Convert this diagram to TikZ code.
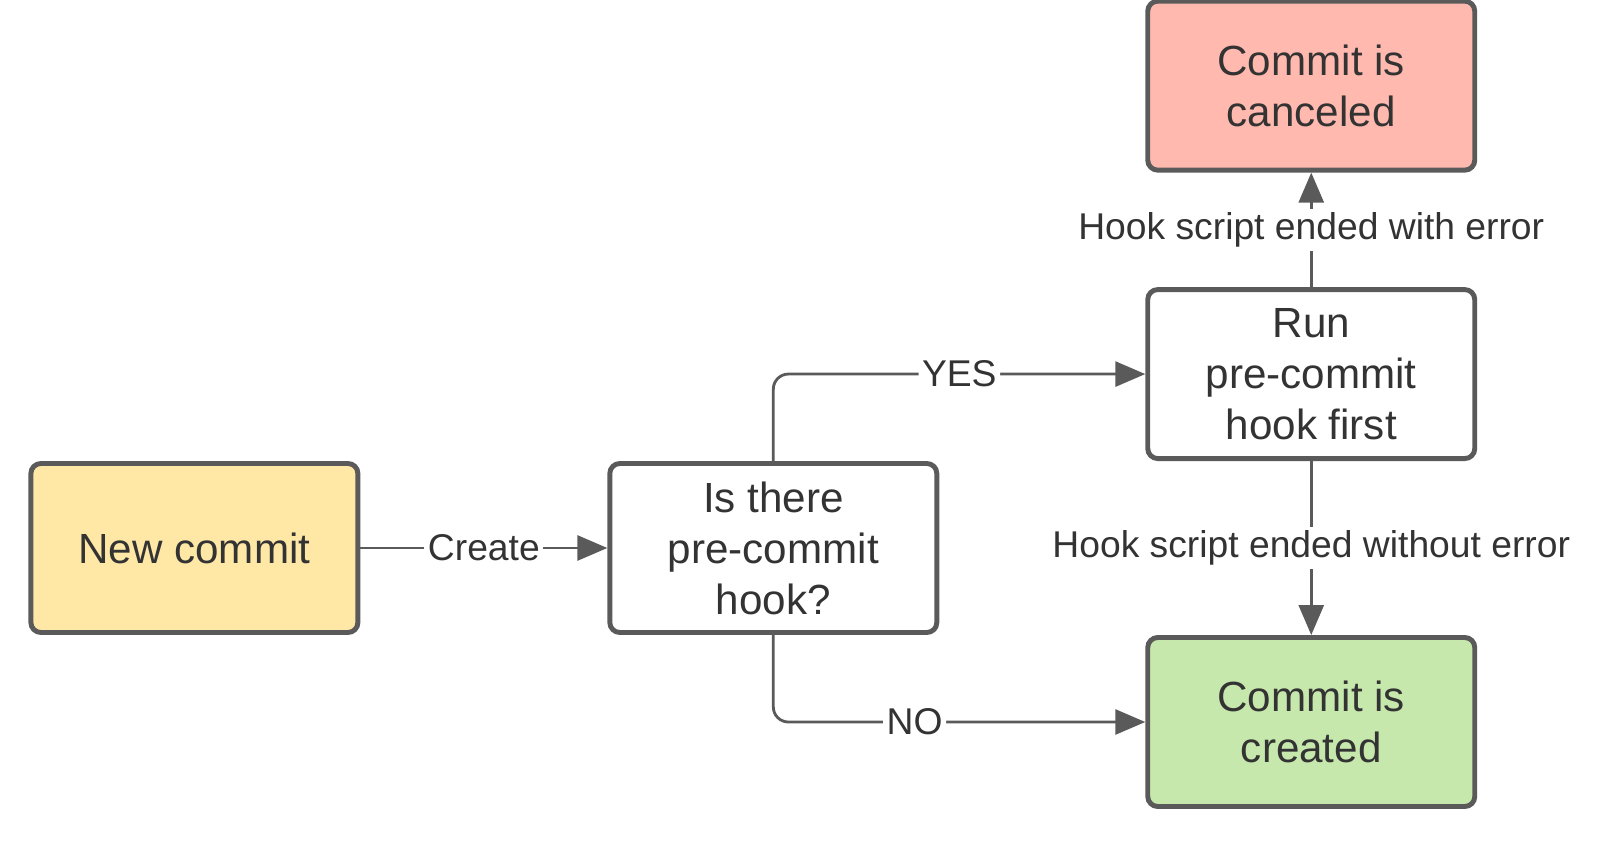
\documentclass[tikz,border=0pt]{standalone}
\usepackage{fontspec}
\setmainfont{Liberation Sans}
\usetikzlibrary{positioning}
\usetikzlibrary{arrows.meta}
\definecolor{boxline}{HTML}{5A5A5A}
\definecolor{textgray}{HTML}{333333}
\definecolor{newfill}{HTML}{FFE8A6}
\definecolor{cancelfill}{HTML}{FFB9AE}
\definecolor{donefill}{HTML}{C7E8AC}
\tikzset{
	block/.style={draw=boxline, rectangle, rounded corners=0.1cm, line width=1.4pt, fill=white, text=textgray, align=center, minimum width=3.27cm, minimum height=1.69cm, font=\fontsize{12}{14.5}\selectfont},
	% labels sitting on the connectors
	edgelabel/.style={fill=white, inner sep=1pt, text=textgray, font=\fontsize{10.6}{12}\selectfont},
}

\begin{document}
\begin{tikzpicture}
	\useasboundingbox (0,0) rectangle (16,8.4);
	\node (new) [block, fill=newfill] at (1.944,2.92) {New commit};
	\node (hook) [block, right=2.47cm of new] {Is there\\pre-commit\\hook?};
	\node (run) [block, above right=0cm and 2.06cm of hook] {Run\\pre-commit\\hook first};
	\node (cancel) [block, fill=cancelfill, above=1.145cm of run] {Commit is\\canceled};
	\node (created) [block, fill=donefill, below=1.74cm of run] {Commit is\\created};
	
	\begin{scope}[line width=0.8pt, boxline, -{Triangle[length=3mm, width=2.5mm]}]
		\draw (new) -- node[edgelabel] {Create} (hook);
		\draw[rounded corners=0.15cm] (hook.north) |- node[edgelabel, pos=0.75] {YES} (run.west);
		\draw[rounded corners=0.15cm] (hook.south) |- node[edgelabel, pos=0.69] {NO} (created.west);
		\draw (run) -- node[edgelabel] {Hook script ended with error} (cancel);
		\draw (run) -- node[edgelabel] {Hook script ended without error} (created);
	\end{scope}	
\end{tikzpicture}
\end{document}
